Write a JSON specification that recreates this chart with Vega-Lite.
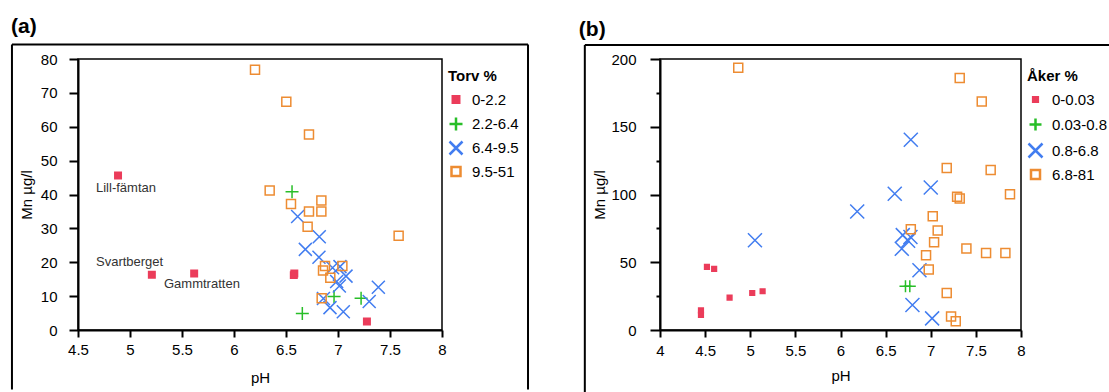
{
  "$schema": "https://vega.github.io/schema/vega-lite/v6.json",
  "background": "white",
  "padding": {"left": 10, "top": 14, "right": 0, "bottom": 0},
  "columns": 2,
  "align": "none",
  "spacing": 48,
  "resolve": {"scale": {"shape": "independent", "stroke": "independent", "fill": "independent", "size": "independent"}},
  "config": {
    "font": "Liberation Sans",
    "view": {"stroke": "#000", "strokeWidth": 1.5},
    "axis": {"grid": false, "domainColor": "#000", "domainWidth": 2, "tickColor": "#000", "tickWidth": 2, "labelColor": "#000", "labelFontSize": 15, "titleFontSize": 15, "titleFontWeight": "normal", "titleColor": "#000", "labelFont": "Liberation Sans", "titleFont": "Liberation Sans", "labelFlush": false, "labelOverlap": false},
    "legend": {"titleFontSize": 15, "titleFontWeight": "bold", "titleColor": "#000", "labelFontSize": 15, "labelColor": "#000", "padding": 10, "offset": -4, "symbolStrokeWidth": 2.5, "rowPadding": 0, "gridAlign": "all", "titlePadding": 8, "labelOffset": 8, "titleFont": "Liberation Sans", "labelFont": "Liberation Sans"},
    "title": {"fontSize": 21, "fontWeight": "bold", "color": "#000", "anchor": "start", "font": "Liberation Sans"}
  },
  "datasets": {
    "torv": [
      {"pH": 4.885, "Mn": 45.6, "cls": "0-2.2"},
      {"pH": 5.21, "Mn": 16.3, "cls": "0-2.2"},
      {"pH": 5.617, "Mn": 16.7, "cls": "0-2.2"},
      {"pH": 6.575, "Mn": 16.2, "cls": "0-2.2"},
      {"pH": 6.58, "Mn": 16.7, "cls": "0-2.2"},
      {"pH": 7.278, "Mn": 2.5, "cls": "0-2.2"},
      {"pH": 6.558, "Mn": 40.8, "cls": "2.2-6.4"},
      {"pH": 6.657, "Mn": 4.9, "cls": "2.2-6.4"},
      {"pH": 6.962, "Mn": 9.9, "cls": "2.2-6.4"},
      {"pH": 7.222, "Mn": 9.4, "cls": "2.2-6.4"},
      {"pH": 6.612, "Mn": 33.5, "cls": "6.4-9.5"},
      {"pH": 6.82, "Mn": 27.5, "cls": "6.4-9.5"},
      {"pH": 6.686, "Mn": 23.8, "cls": "6.4-9.5"},
      {"pH": 6.817, "Mn": 21.5, "cls": "6.4-9.5"},
      {"pH": 6.948, "Mn": 18.4, "cls": "6.4-9.5"},
      {"pH": 7.019, "Mn": 18.7, "cls": "6.4-9.5"},
      {"pH": 7.077, "Mn": 15.9, "cls": "6.4-9.5"},
      {"pH": 7.013, "Mn": 13.0, "cls": "6.4-9.5"},
      {"pH": 6.987, "Mn": 14.3, "cls": "6.4-9.5"},
      {"pH": 6.86, "Mn": 9.3, "cls": "6.4-9.5"},
      {"pH": 6.923, "Mn": 6.6, "cls": "6.4-9.5"},
      {"pH": 7.051, "Mn": 5.4, "cls": "6.4-9.5"},
      {"pH": 7.3, "Mn": 8.4, "cls": "6.4-9.5"},
      {"pH": 7.388, "Mn": 12.6, "cls": "6.4-9.5"},
      {"pH": 6.202, "Mn": 76.8, "cls": "9.5-51"},
      {"pH": 6.503, "Mn": 67.4, "cls": "9.5-51"},
      {"pH": 6.721, "Mn": 57.7, "cls": "9.5-51"},
      {"pH": 6.343, "Mn": 41.2, "cls": "9.5-51"},
      {"pH": 6.548, "Mn": 37.2, "cls": "9.5-51"},
      {"pH": 6.84, "Mn": 38.2, "cls": "9.5-51"},
      {"pH": 6.84, "Mn": 35.0, "cls": "9.5-51"},
      {"pH": 6.721, "Mn": 35.0, "cls": "9.5-51"},
      {"pH": 6.708, "Mn": 30.5, "cls": "9.5-51"},
      {"pH": 7.583, "Mn": 27.8, "cls": "9.5-51"},
      {"pH": 6.875, "Mn": 18.9, "cls": "9.5-51"},
      {"pH": 7.042, "Mn": 18.9, "cls": "9.5-51"},
      {"pH": 6.856, "Mn": 17.6, "cls": "9.5-51"},
      {"pH": 6.926, "Mn": 15.4, "cls": "9.5-51"},
      {"pH": 6.843, "Mn": 9.35, "cls": "9.5-51"}
    ],
    "torvLabels": [
      {"label": "Lill-fämtan", "pH": 4.673, "Mn": 41.9},
      {"label": "Svartberget", "pH": 4.673, "Mn": 20.1},
      {"label": "Gammtratten", "pH": 5.327, "Mn": 13.6}
    ],
    "aker": [
      {"pH": 4.454, "Mn": 14.5, "cls": "0-0.03"},
      {"pH": 4.454, "Mn": 11.1, "cls": "0-0.03"},
      {"pH": 4.52, "Mn": 46.6, "cls": "0-0.03"},
      {"pH": 4.6, "Mn": 45.1, "cls": "0-0.03"},
      {"pH": 4.771, "Mn": 23.9, "cls": "0-0.03"},
      {"pH": 5.022, "Mn": 27.3, "cls": "0-0.03"},
      {"pH": 5.137, "Mn": 28.6, "cls": "0-0.03"},
      {"pH": 6.72, "Mn": 32.3, "cls": "0.03-0.8"},
      {"pH": 6.768, "Mn": 32.3, "cls": "0.03-0.8"},
      {"pH": 5.052, "Mn": 66.3, "cls": "0.8-6.8"},
      {"pH": 6.185, "Mn": 87.4, "cls": "0.8-6.8"},
      {"pH": 6.601, "Mn": 100.5, "cls": "0.8-6.8"},
      {"pH": 6.779, "Mn": 140.4, "cls": "0.8-6.8"},
      {"pH": 7.0, "Mn": 105.2, "cls": "0.8-6.8"},
      {"pH": 6.69, "Mn": 70.0, "cls": "0.8-6.8"},
      {"pH": 6.775, "Mn": 68.7, "cls": "0.8-6.8"},
      {"pH": 6.749, "Mn": 65.8, "cls": "0.8-6.8"},
      {"pH": 6.679, "Mn": 59.9, "cls": "0.8-6.8"},
      {"pH": 6.875, "Mn": 44.1, "cls": "0.8-6.8"},
      {"pH": 6.797, "Mn": 18.5, "cls": "0.8-6.8"},
      {"pH": 7.015, "Mn": 8.6, "cls": "0.8-6.8"},
      {"pH": 4.867, "Mn": 193.6, "cls": "6.8-81"},
      {"pH": 7.321, "Mn": 186.0, "cls": "6.8-81"},
      {"pH": 7.565, "Mn": 168.7, "cls": "6.8-81"},
      {"pH": 7.177, "Mn": 119.5, "cls": "6.8-81"},
      {"pH": 7.664, "Mn": 118.0, "cls": "6.8-81"},
      {"pH": 7.878, "Mn": 100.2, "cls": "6.8-81"},
      {"pH": 7.292, "Mn": 98.3, "cls": "6.8-81"},
      {"pH": 7.321, "Mn": 97.0, "cls": "6.8-81"},
      {"pH": 7.022, "Mn": 84.0, "cls": "6.8-81"},
      {"pH": 6.779, "Mn": 74.4, "cls": "6.8-81"},
      {"pH": 7.077, "Mn": 73.4, "cls": "6.8-81"},
      {"pH": 7.037, "Mn": 64.8, "cls": "6.8-81"},
      {"pH": 7.395, "Mn": 60.1, "cls": "6.8-81"},
      {"pH": 7.613, "Mn": 56.9, "cls": "6.8-81"},
      {"pH": 7.827, "Mn": 56.9, "cls": "6.8-81"},
      {"pH": 6.948, "Mn": 55.2, "cls": "6.8-81"},
      {"pH": 6.978, "Mn": 44.6, "cls": "6.8-81"},
      {"pH": 7.177, "Mn": 27.3, "cls": "6.8-81"},
      {"pH": 7.225, "Mn": 9.9, "cls": "6.8-81"},
      {"pH": 7.277, "Mn": 6.4, "cls": "6.8-81"}
    ]
  },
  "concat": [
    {
      "resolve": {"scale": {"shape": "independent", "stroke": "independent", "fill": "independent", "size": "independent"}},
      "vconcat": [
        {
          "width": 364,
          "height": 271,
          "title": {"text": "(a)", "offset": 7},
          "layer": [
            {
              "data": {"values": [{}]},
              "mark": {"type": "rule", "color": "#000", "strokeWidth": 2},
              "encoding": {
                "x": {"datum": 3.865, "type": "quantitative", "scale": {"domain": [4.5, 8], "nice": false, "zero": false},
                      "axis": {"title": "pH", "values": [4.5, 5, 5.5, 6, 6.5, 7, 7.5, 8], "tickCount": 30, "format": "~g", "tickSize": 7, "labelPadding": 5, "labelDx": -5, "titlePadding": 13, "labelOverlap": false, "labelFlush": false}},
                "y": {"datum": 84.28, "type": "quantitative", "scale": {"domain": [0, 80], "nice": false, "zero": false},
                      "axis": {"title": "Mn µg/l", "values": [0, 10, 20, 30, 40, 50, 60, 70, 80], "tickCount": 30, "tickSize": 9, "labelPadding": 12, "titlePadding": 6, "labelOverlap": false, "labelFlush": false}},
                "y2": {"datum": -17.6}
              }
            },
            {
              "data": {"values": [{}]},
              "mark": {"type": "rule", "color": "#000", "strokeWidth": 2},
              "encoding": {
                "x": {"datum": 8.827, "type": "quantitative"},
                "y": {"datum": 84.28, "type": "quantitative"},
                "y2": {"datum": -17.6}
              }
            },
            {
              "data": {"values": [{}]},
              "mark": {"type": "rule", "color": "#000", "strokeWidth": 2},
              "encoding": {
                "x": {"datum": 3.865, "type": "quantitative"},
                "x2": {"datum": 8.827},
                "y": {"datum": 84.28, "type": "quantitative"}
              }
            },
            {
              "data": {"name": "torvLabels"},
              "mark": {"type": "text", "align": "left", "baseline": "middle", "fontSize": 13, "color": "#333", "font": "Liberation Sans"},
              "encoding": {
                "x": {"field": "pH", "type": "quantitative"},
                "y": {"field": "Mn", "type": "quantitative"},
                "text": {"field": "label"}
              }
            },
            {
              "data": {"name": "torv"},
              "mark": {"type": "point", "strokeWidth": 1.5, "opacity": 1},
              "encoding": {
                "x": {"field": "pH", "type": "quantitative"},
                "y": {"field": "Mn", "type": "quantitative"},
                "shape": {"field": "cls", "type": "nominal", "title": "Torv %",
                          "scale": {"domain": ["0-2.2", "2.2-6.4", "6.4-9.5", "9.5-51"], "range": ["square", "M-1,0L1,0M0,-1L0,1", "M-1,-1L1,1M-1,1L1,-1", "square"]}},
                "stroke": {"field": "cls", "type": "nominal", "title": "Torv %",
                           "scale": {"domain": ["0-2.2", "2.2-6.4", "6.4-9.5", "9.5-51"], "range": ["#eb3c5a", "#28be28", "#427df0", "#ed8c32"]}},
                "fill": {"field": "cls", "type": "nominal", "title": "Torv %",
                         "scale": {"domain": ["0-2.2", "2.2-6.4", "6.4-9.5", "9.5-51"], "range": ["#eb3c5a", "transparent", "transparent", "transparent"]}},
                "size": {"field": "cls", "type": "nominal", "title": "Torv %",
                         "scale": {"type": "ordinal", "domain": ["0-2.2", "2.2-6.4", "6.4-9.5", "9.5-51"], "range": [42, 169, 169, 81]}}
              }
            }
          ]
        }
      ]
    },
    {
      "resolve": {"scale": {"shape": "independent", "stroke": "independent", "fill": "independent", "size": "independent"}},
      "vconcat": [
        {
          "width": 361,
          "height": 271,
          "title": {"text": "(b)", "offset": 4, "dx": -5},
          "layer": [
            {
              "data": {"values": [{}]},
              "mark": {"type": "rule", "color": "#000", "strokeWidth": 2},
              "encoding": {
                "x": {"datum": 3.167, "type": "quantitative", "scale": {"domain": [4, 8], "nice": false, "zero": false},
                      "axis": {"title": "pH", "values": [4, 4.5, 5, 5.5, 6, 6.5, 7, 7.5, 8], "tickCount": 30, "format": "~g", "tickSize": 7, "labelPadding": 6, "labelDx": -5, "titlePadding": 10, "labelOverlap": false, "labelFlush": false}},
                "y": {"datum": 210.3, "type": "quantitative", "scale": {"domain": [0, 200], "nice": false, "zero": false},
                      "axis": {"title": "Mn µg/l", "values": [0, 25, 50, 75, 100, 125, 150, 175, 200], "tickCount": 30,
                               "labelExpr": "datum.value % 50 === 0 ? datum.label : ''",
                               "tickSize": {"condition": {"test": "datum.value % 50 === 0", "value": 10}, "value": 4},
                               "labelPadding": 14, "titlePadding": 3, "labelOverlap": false, "labelFlush": false}},
                "y2": {"datum": -47.0}
              }
            },
            {
              "data": {"values": [{}]},
              "mark": {"type": "rule", "color": "#000", "strokeWidth": 2},
              "encoding": {
                "x": {"datum": 3.167, "type": "quantitative"},
                "x2": {"datum": 8.975},
                "y": {"datum": 210.3, "type": "quantitative"}
              }
            },
            {
              "data": {"name": "aker"},
              "mark": {"type": "point", "strokeWidth": 1.5, "opacity": 1},
              "encoding": {
                "x": {"field": "pH", "type": "quantitative"},
                "y": {"field": "Mn", "type": "quantitative"},
                "shape": {"field": "cls", "type": "nominal", "title": "Åker %",
                          "scale": {"domain": ["0-0.03", "0.03-0.8", "0.8-6.8", "6.8-81"], "range": ["square", "M-1,0L1,0M0,-1L0,1", "M-1,-1L1,1M-1,1L1,-1", "square"]}},
                "stroke": {"field": "cls", "type": "nominal", "title": "Åker %",
                           "scale": {"domain": ["0-0.03", "0.03-0.8", "0.8-6.8", "6.8-81"], "range": ["#eb3c5a", "#28be28", "#427df0", "#ed8c32"]}},
                "fill": {"field": "cls", "type": "nominal", "title": "Åker %",
                         "scale": {"domain": ["0-0.03", "0.03-0.8", "0.8-6.8", "6.8-81"], "range": ["#eb3c5a", "transparent", "transparent", "transparent"]}},
                "size": {"field": "cls", "type": "nominal", "title": "Åker %",
                         "scale": {"type": "ordinal", "domain": ["0-0.03", "0.03-0.8", "0.8-6.8", "6.8-81"], "range": [22, 144, 196, 81]}}
              }
            }
          ]
        }
      ]
    }
  ]
}
